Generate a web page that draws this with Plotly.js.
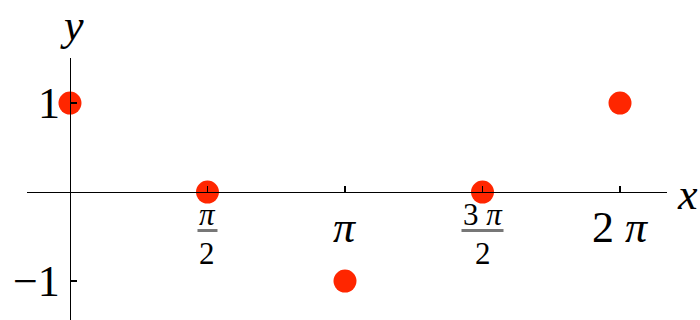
<!DOCTYPE html>
<html>
<head>
<meta charset="utf-8">
<script src="https://cdn.plot.ly/plotly-3.0.1.min.js"></script>
<style>
  html, body { margin: 0; padding: 0; background: #fff; }
  #plot { width: 700px; height: 320px; }
</style>
</head>
<body>
<div id="plot"></div>
<script>
// Sample points of cos(x) at multiples of pi/2
const xValues = [0, 1.5708, 3.1416, 4.7124, 6.2832];
const yValues = [1, 0, -1, 0, 1];

// Axis ticks and their labels (fractions split into numerator / denominator)
const xTickValues = [1.5708, 3.1416, 4.7124, 6.2832];
const xTickNumerators = ['<i>π</i>', '<i>π</i>', '3 <i>π</i>', '2 <i>π</i>'];
const xTickDenominators = ['2', '', '2', ''];
const yTickValues = [1, -1];
const yTickLabels = ['1', '−1'];

const xRange = [-0.491, 6.82];
const yRange = [-1.438, 1.506];

const serif = 'Liberation Serif';
const bigFont = { family: serif, size: 44, color: '#000' };
const fracFont = { family: serif, size: 31, color: '#000' };
const fracBarHalfWidth = [10, 0, 21, 0];

const annotations = [];
const shapes = [];

xTickValues.forEach((v, i) => {
  const num = xTickNumerators[i];
  const den = xTickDenominators[i];
  if (!den) {
    annotations.push({ x: v, y: 0, xref: 'x', yref: 'y', text: num, showarrow: false,
      xanchor: 'center', yanchor: 'middle', yshift: -35, font: bigFont });
  } else {
    annotations.push({ x: v, y: 0, xref: 'x', yref: 'y', text: num, showarrow: false,
      xanchor: 'center', yanchor: 'middle', yshift: -22, font: fracFont });
    annotations.push({ x: v, y: 0, xref: 'x', yref: 'y', text: den, showarrow: false,
      xanchor: 'center', yanchor: 'middle', yshift: -61, font: fracFont });
    shapes.push({ type: 'line', xref: 'x', yref: 'y',
      xsizemode: 'pixel', xanchor: v, x0: -fracBarHalfWidth[i], x1: fracBarHalfWidth[i],
      ysizemode: 'pixel', yanchor: 0, y0: -38.5, y1: -38.5,
      line: { color: '#777', width: 3 } });
  }
});

yTickValues.forEach((v, i) => {
  annotations.push({ x: 0, y: v, xref: 'x', yref: 'y', text: yTickLabels[i], showarrow: false,
    xanchor: 'right', yanchor: 'middle', xshift: -8, font: bigFont });
});

// Axis names
annotations.push({ x: 1, y: 0, xref: 'paper', yref: 'y', text: '<i>x</i>', showarrow: false,
  xanchor: 'left', yanchor: 'middle', xshift: 8, yshift: -2, font: bigFont });
annotations.push({ x: 0, y: 1, xref: 'x', yref: 'paper', text: '<i>y</i>', showarrow: false,
  xanchor: 'center', yanchor: 'bottom', xshift: 2, yshift: 6, font: bigFont });

const trace = {
  x: xValues,
  y: yValues,
  type: 'scatter',
  mode: 'markers',
  marker: { size: 23, color: 'rgb(255,38,0)', line: { width: 0 } },
  cliponaxis: false,
  hoverinfo: 'skip'
};

const axisCommon = {
  showline: true, linecolor: '#000', linewidth: 1.3,
  ticks: 'inside', ticklen: 6, tickwidth: 1.3, tickcolor: '#000',
  showticklabels: false, showgrid: false, zeroline: false, fixedrange: true,
  anchor: 'free'
};

const layout = {
  width: 700, height: 320,
  margin: { l: 27, r: 33, t: 58, b: 0, pad: 0 },
  paper_bgcolor: '#fff', plot_bgcolor: '#fff',
  showlegend: false,
  xaxis: Object.assign({}, axisCommon, {
    range: xRange, tickvals: xTickValues,
    position: (0 - yRange[0]) / (yRange[1] - yRange[0])
  }),
  yaxis: Object.assign({}, axisCommon, {
    range: yRange, tickvals: yTickValues,
    position: (0 - xRange[0]) / (xRange[1] - xRange[0])
  }),
  annotations: annotations,
  shapes: shapes
};

Plotly.newPlot('plot', [trace], layout, { displayModeBar: false, staticPlot: true });
</script>
</body>
</html>
